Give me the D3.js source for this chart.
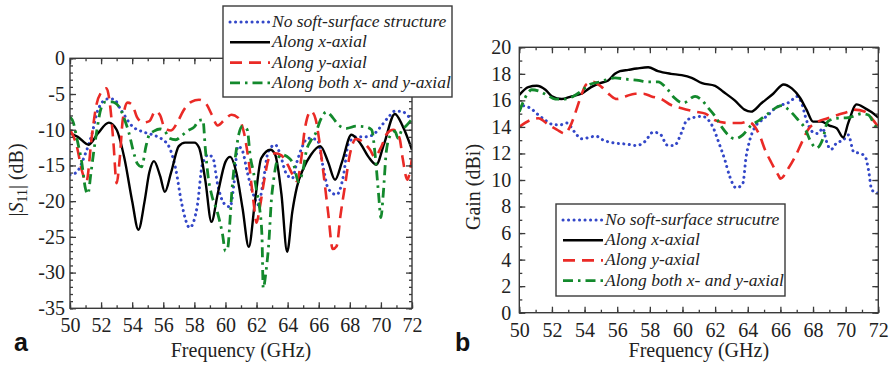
<!DOCTYPE html>
<html><head><meta charset="utf-8">
<script src="https://cdn.jsdelivr.net/npm/d3@7"></script>
<style>
html,body{margin:0;padding:0;background:#fff;}
svg{display:block;}
</style></head>
<body>
<svg id="chart" width="892" height="367"></svg>
<script>
// ---------------- DATA ----------------
const freqTicks = [50,52,54,56,58,60,62,64,66,68,70,72];
const s11Ticks = [0,-5,-10,-15,-20,-25,-30,-35];
const gainTicks = [0,2,4,6,8,10,12,14,16,18,20];
const seriesNames = ["No soft-surface structure","Along x-axial","Along y-axial","Along both x- and y-axial"];
const seriesNamesB = ["No soft-surface strucutre","Along x-axial","Along y-axial","Along both x- and y-axial"];

// (a) |S11| (dB) vs frequency (GHz)
const s11None = [[50,-16.3],[50.4,-16],[51.0,-13.3],[51.4,-10.7],[51.8,-7.2],[52.4,-5.7],[52.8,-5.7],[53.3,-7.3],[54.0,-9.5],[54.7,-10.3],[55.3,-10.7],[55.9,-11.3],[56.4,-12.5],[56.8,-15.5],[57.2,-20.5],[57.7,-23.7],[58.2,-20.5],[58.5,-15],[58.9,-13.5],[59.2,-14],[59.5,-17.7],[59.9,-20.3],[60.3,-20.8],[60.55,-17.5],[60.8,-12.3],[61.1,-13],[61.4,-15.9],[61.8,-19.1],[62.1,-20.5],[62.4,-17.7],[62.75,-13.1],[63.2,-12.1],[63.5,-13.3],[63.9,-16.1],[64.3,-16.8],[64.6,-14.5],[64.9,-12.6],[65.3,-11.2],[65.9,-11.4],[66.3,-15.4],[66.6,-18.2],[67.15,-19.1],[67.6,-16.3],[67.9,-12],[68.4,-11],[69.0,-11],[69.5,-10.7],[69.9,-9.8],[70.5,-8.2],[70.9,-7.4],[71.3,-7.4],[71.9,-8.4],[72,-8.6]];
const s11X = [[50,-10.5],[50.5,-11.0],[51.2,-12.1],[51.8,-10.5],[52.5,-9.0],[53.0,-10.0],[53.5,-14],[54.0,-20],[54.4,-24.0],[54.8,-20],[55.1,-16],[55.4,-14.4],[55.8,-16.5],[56.1,-18.7],[56.5,-16],[57.0,-12.3],[57.4,-11.8],[58.0,-11.8],[58.3,-12.5],[58.7,-17],[59.1,-22.9],[59.5,-19],[60.0,-14.5],[60.3,-13.8],[60.7,-16],[61.1,-21],[61.5,-26.4],[61.9,-20],[62.3,-14],[62.9,-12.8],[63.2,-13.5],[63.6,-19],[63.97,-27.1],[64.3,-21.5],[64.6,-18],[65.0,-15.5],[65.5,-13.5],[66.1,-12.3],[66.6,-14.5],[67.05,-17],[67.5,-14.5],[68.1,-10.7],[68.7,-12],[69.2,-13.8],[69.7,-14.9],[70.2,-12],[70.9,-7.8],[71.4,-9.5],[72,-12.8]];
const s11Y = [[50,-10],[50.4,-12],[50.8,-16],[51.05,-17.3],[51.4,-11],[51.7,-6.5],[52.0,-4.8],[52.35,-4.2],[52.6,-7],[52.8,-12],[53.0,-17.5],[53.2,-14],[53.4,-8.5],[53.7,-6.2],[54.0,-6.5],[54.3,-8.2],[54.7,-9],[55.1,-8.8],[55.5,-7.4],[55.8,-8],[56.1,-9.8],[56.5,-10.1],[56.9,-9],[57.3,-7.3],[57.8,-6.1],[58.3,-5.8],[58.8,-6.5],[59.1,-7.8],[59.5,-9.4],[59.9,-8.7],[60.4,-7.9],[60.8,-8.3],[61.2,-10.5],[61.5,-14.5],[61.8,-20],[62.0,-23],[62.2,-21],[62.5,-17],[62.8,-14],[63.2,-13.3],[63.6,-13.6],[64.0,-14.9],[64.3,-16.2],[64.6,-17.2],[64.85,-14.5],[65.1,-10],[65.5,-7.4],[65.8,-8.5],[66.0,-11],[66.3,-16],[66.6,-21.5],[66.9,-26.7],[67.15,-26.3],[67.4,-22],[67.7,-17.7],[68.0,-13.5],[68.4,-11.3],[68.9,-11.8],[69.3,-12.8],[69.6,-13.8],[70.0,-12.5],[70.4,-10.5],[70.8,-10],[71.2,-11.2],[71.4,-14],[71.7,-17],[71.85,-16],[72,-14]];
const s11XY = [[50,-8.2],[50.2,-8.9],[50.45,-11.3],[50.75,-14.5],[51.0,-18.3],[51.15,-19],[51.35,-16],[51.5,-13.5],[51.75,-9.8],[52.0,-7],[52.3,-6.1],[52.7,-6.1],[53.0,-6.4],[53.3,-7.4],[53.55,-8.8],[53.8,-10.5],[54.05,-12.8],[54.35,-14.8],[54.6,-15.2],[54.9,-12.2],[55.1,-10.7],[55.4,-10.2],[55.8,-9.9],[56.1,-10.2],[56.4,-11.2],[56.8,-11.4],[57.2,-10.8],[57.6,-10.1],[58.0,-9.6],[58.3,-8.7],[58.55,-8.6],[58.7,-12.5],[58.9,-16.8],[59.1,-19],[59.5,-21.7],[59.8,-24.5],[60.0,-27],[60.15,-26.5],[60.3,-22.4],[60.4,-19],[60.55,-15.4],[60.7,-12.8],[60.85,-10.7],[61.1,-9.5],[61.4,-10],[61.6,-13.8],[61.8,-15.9],[62.0,-18.5],[62.2,-21],[62.35,-25],[62.43,-32.2],[62.6,-30],[62.8,-25.5],[62.95,-20],[63.1,-17],[63.3,-14.5],[63.6,-13.5],[64.1,-14],[64.4,-15],[64.7,-17.3],[65.0,-15.5],[65.2,-13],[65.5,-11.5],[65.8,-10.5],[66.1,-8.7],[66.5,-7.5],[66.9,-8.3],[67.3,-9.4],[67.8,-9.8],[68.4,-9.5],[69.0,-9.6],[69.4,-10],[69.65,-14],[69.85,-19],[70.0,-22.3],[70.15,-19],[70.35,-13],[70.6,-10.8],[70.9,-10.2],[71.1,-11.2],[71.35,-10],[71.6,-9.5],[72,-8.5]];

// (b) Gain (dBi) vs frequency (GHz)
const gainNone = [[50,15.4],[50.15,15.6],[50.7,15.4],[51.07,15.0],[51.6,14.5],[52.0,14.2],[52.5,14.15],[52.9,14.3],[53.4,13.6],[53.8,13.1],[54.7,13.3],[55.15,13.0],[55.76,12.8],[56.6,12.7],[57.2,12.6],[57.7,12.9],[58.2,13.6],[58.6,13.5],[59.1,12.6],[59.5,12.6],[59.95,13.6],[60.26,14.5],[60.66,14.7],[61.2,14.8],[61.6,14.5],[61.9,13.9],[62.2,12.9],[62.6,11.5],[62.9,10.25],[63.3,9.4],[63.7,9.75],[63.9,11.75],[64.1,12.9],[64.4,13.9],[64.85,14.5],[65.25,14.9],[65.67,15.4],[66.08,15.65],[66.6,15.9],[67.0,16.3],[67.3,15.8],[67.6,14.5],[68.0,13.6],[68.3,13.5],[68.6,13.9],[68.8,13.0],[69.1,12.3],[69.45,12.8],[69.85,13.0],[70.16,13.4],[70.5,12.1],[70.9,12.0],[71.2,11.75],[71.4,10.75],[71.6,9.25],[71.8,9.1],[72,9.0]];
const gainX = [[50,16.4],[50.55,17.0],[51.07,17.1],[51.6,16.8],[52.0,16.3],[52.6,16.1],[53.2,16.3],[53.8,16.5],[54.4,17.0],[54.95,17.3],[55.45,17.5],[55.86,18.0],[56.17,18.2],[56.68,18.3],[57.2,18.4],[57.9,18.5],[58.5,18.2],[59.3,18.0],[59.95,17.9],[60.56,17.7],[61.2,17.3],[62.0,17.1],[62.5,16.65],[63.2,16.0],[63.8,15.3],[64.2,15.15],[64.85,15.8],[65.56,16.5],[66.2,17.2],[66.7,16.9],[67.2,16.2],[67.6,15.3],[68.0,14.4],[68.5,14.4],[69.0,14.1],[69.45,13.9],[69.85,13.2],[70.16,14.3],[70.67,15.7],[71.2,15.4],[71.6,15.1],[72,14.7]];
const gainY = [[50,14.0],[50.65,14.5],[51.16,14.65],[51.8,14.15],[52.3,13.8],[52.8,13.5],[53.1,14.0],[53.5,15.3],[53.8,16.4],[54.1,17.2],[54.5,17.4],[55.05,17.0],[55.56,16.4],[55.97,16.1],[56.5,16.3],[57.1,16.5],[57.6,16.5],[58.1,16.3],[58.7,16.1],[59.3,15.65],[59.95,15.4],[60.77,15.15],[61.4,15.0],[62.0,14.5],[62.8,14.3],[63.6,14.3],[64.0,14.4],[64.75,13.3],[65.05,12.3],[65.45,11.3],[65.9,10.3],[66.0,10.1],[66.5,10.9],[66.9,11.75],[67.3,12.8],[67.7,13.8],[68.3,14.4],[68.9,14.65],[69.5,14.9],[70.16,15.15],[70.5,15.3],[71.2,15.15],[71.6,14.65],[72,14.0]];
const gainXY = [[50,15.15],[50.45,16.4],[50.76,16.8],[51.2,16.7],[51.7,16.4],[52.2,16.1],[52.8,16.1],[53.3,16.3],[53.8,16.7],[54.3,17.2],[54.95,17.4],[55.86,17.7],[56.5,17.6],[57.3,17.5],[57.9,17.4],[58.5,17.4],[59.1,16.8],[59.5,16.2],[60.05,15.8],[60.77,16.3],[61.2,16.0],[61.6,15.4],[62.0,14.8],[62.4,14.0],[62.8,13.4],[63.2,13.1],[63.7,13.4],[64.2,14.1],[64.7,14.5],[65.25,15.0],[65.8,15.5],[66.1,15.6],[66.5,15.3],[67.0,14.65],[67.5,13.9],[67.9,12.8],[68.2,12.4],[68.6,13.1],[68.9,14.4],[69.45,14.65],[70.16,14.7],[71.0,15.0],[71.4,14.9],[71.8,14.1],[72,13.8]];

// ---------------- DRAW ----------------
const svg = d3.select("#chart");
const serif = "'Liberation Serif','Times New Roman',serif";
const frameColor = "#3a3a3a";
const styles = [
  {color:"#3347c8", width:3.0, dash:"0.1,5.4", cap:"round"},
  {color:"#000000", width:2.4, dash:null, cap:"butt"},
  {color:"#ea2a26", width:2.6, dash:"12,7", cap:"butt"},
  {color:"#13892c", width:2.8, dash:"10,5,2.5,5", cap:"butt"}
];

function panel(opt){
  const x = d3.scaleLinear().domain([50,72]).range([opt.x0,opt.x1]);
  const y = d3.scaleLinear().domain(opt.yDomain).range([opt.y0,opt.y1]);
  const g = svg.append("g");
  const clipId = "clip"+opt.id;
  svg.append("clipPath").attr("id",clipId).append("rect")
    .attr("x",opt.x0).attr("y",opt.y1).attr("width",opt.x1-opt.x0).attr("height",opt.y0-opt.y1);

  const line = d3.line().x(d=>x(d[0])).y(d=>y(d[1])).curve(d3.curveMonotoneX);
  const lines = g.append("g").attr("clip-path",`url(#${clipId})`);
  opt.series.forEach((s,i)=>{
    const st = styles[i];
    lines.append("path").datum(s).attr("d",line)
      .attr("fill","none").attr("stroke",st.color).attr("stroke-width",st.width)
      .attr("stroke-dasharray",st.dash).attr("stroke-linecap",st.cap).attr("stroke-linejoin","round");
  });

  const minorX = d3.range(50,72.01,1);
  const minorY = d3.range(opt.yDomain[0],opt.yDomain[1]+0.01,1);
  function styleAxis(a){ a.select(".domain").remove(); a.selectAll("line").attr("stroke",frameColor).attr("stroke-width",1.3); a.selectAll("text").attr("font-family",serif).attr("font-size",20).attr("fill","#222"); }
  styleAxis(g.append("g").attr("transform",`translate(0,${opt.y0})`).call(d3.axisBottom(x).tickValues(minorX).tickSize(-3).tickFormat("")));
  styleAxis(g.append("g").attr("transform",`translate(0,${opt.y0})`).call(d3.axisBottom(x).tickValues(freqTicks).tickSize(-6).tickPadding(10).tickFormat(d3.format("d"))));
  styleAxis(g.append("g").attr("transform",`translate(0,${opt.y1})`).call(d3.axisTop(x).tickValues(minorX).tickSize(-3).tickFormat("")));
  styleAxis(g.append("g").attr("transform",`translate(0,${opt.y1})`).call(d3.axisTop(x).tickValues(freqTicks).tickSize(-6).tickFormat("")));
  styleAxis(g.append("g").attr("transform",`translate(${opt.x0},0)`).call(d3.axisLeft(y).tickValues(minorY).tickSize(-3).tickFormat("")));
  styleAxis(g.append("g").attr("transform",`translate(${opt.x0},0)`).call(d3.axisLeft(y).tickValues(opt.yTicks).tickSize(-6).tickPadding(opt.yPad).tickFormat(d3.format("d"))));
  styleAxis(g.append("g").attr("transform",`translate(${opt.x1},0)`).call(d3.axisRight(y).tickValues(minorY).tickSize(-3).tickFormat("")));
  styleAxis(g.append("g").attr("transform",`translate(${opt.x1},0)`).call(d3.axisRight(y).tickValues(opt.yTicks).tickSize(-6).tickFormat("")));
  g.selectAll("text").text(function(){return this.textContent.replace("−","-");});

  g.append("rect").attr("x",opt.x0).attr("y",opt.y1).attr("width",opt.x1-opt.x0).attr("height",opt.y0-opt.y1)
    .attr("fill","none").attr("stroke",frameColor).attr("stroke-width",1.4);

  const L = opt.legend;
  const lg = svg.append("g");
  lg.append("rect").attr("x",L.x).attr("y",L.y).attr("width",L.w).attr("height",L.h)
    .attr("fill","#fff").attr("stroke",frameColor).attr("stroke-width",1.4);
  L.names.forEach((n,i)=>{
    const yy = L.y + L.first + i*L.step;
    const st = styles[i];
    lg.append("line").attr("x1",L.x+7).attr("x2",L.x+47).attr("y1",yy-5).attr("y2",yy-5)
      .attr("stroke",st.color).attr("stroke-width",st.width).attr("stroke-dasharray",st.dash).attr("stroke-linecap",st.cap);
    lg.append("text").attr("x",L.x+49).attr("y",yy).text(n)
      .attr("font-family",serif).attr("font-style","italic").attr("font-size",17.5).attr("fill","#222");
  });

  svg.append("text").attr("x",(opt.x0+opt.x1)/2).attr("y",357).attr("text-anchor","middle")
    .attr("font-family",serif).attr("font-size",20).attr("fill","#222").text("Frequency (GHz)");
  svg.append("text").attr("x",opt.labelX).attr("y",351).text(opt.letter)
    .attr("font-family","'Liberation Sans',Arial,sans-serif").attr("font-weight","bold").attr("font-size",25).attr("fill","#111");
  return {x,y};
}

panel({id:"a", x0:70, x1:412, y0:308.3, y1:58.3, yDomain:[-35,0], yTicks:s11Ticks, yPad:5,
  series:[s11None,s11X,s11Y,s11XY], letter:"a", labelX:14,
  legend:{x:223,y:6,w:229,h:91,first:21,step:20.3,names:seriesNames}});
panel({id:"b", x0:519.3, x1:878.3, y0:312.7, y1:47.3, yDomain:[0,20], yTicks:gainTicks, yPad:8,
  series:[gainNone,gainX,gainY,gainXY], letter:"b", labelX:455,
  legend:{x:556,y:204,w:229,h:92,first:21,step:20.2,names:seriesNamesB}});

const ya = svg.append("text").attr("transform","translate(23,180) rotate(-90)").attr("text-anchor","middle")
  .attr("font-family",serif).attr("font-size",20).attr("fill","#222");
ya.append("tspan").text("|");
ya.append("tspan").attr("font-style","italic").text("S");
ya.append("tspan").attr("font-size",14).attr("dy",4).text("11");
ya.append("tspan").attr("dy",-4).text("| (dB)");
svg.append("text").attr("transform","translate(480,187) rotate(-90)").attr("text-anchor","middle")
  .attr("font-family",serif).attr("font-size",20).attr("fill","#222").text("Gain (dBi)");
</script>
</body></html>
